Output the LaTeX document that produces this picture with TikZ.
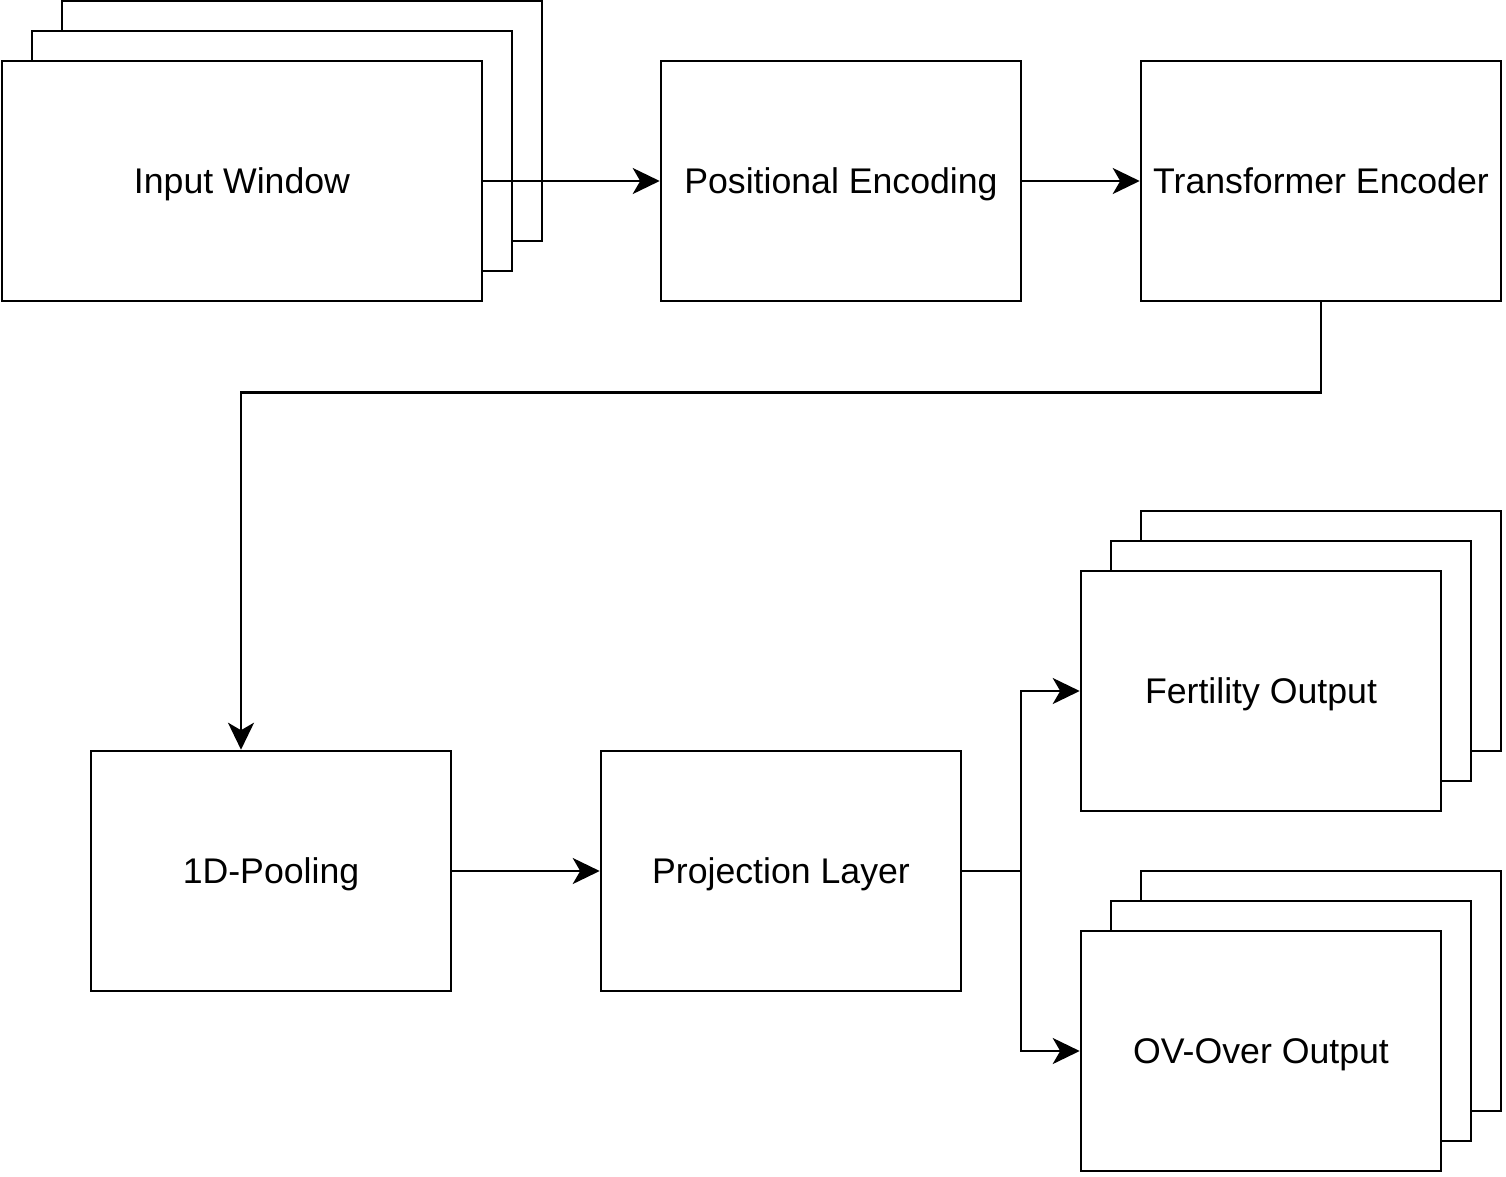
\documentclass[tikz,border=0pt]{standalone}
\usepackage{fontspec}
\setmainfont{Liberation Sans}
\usetikzlibrary{arrows.meta}
\tikzset{
  blk/.style={draw, fill=white, line width=1.5pt, minimum width=7.2cm, minimum height=4.8cm, inner sep=0pt, text height=14.6pt, text depth=0pt, font=\fontsize{20.3}{24}\selectfont},
  wideblk/.style={blk, minimum width=9.6cm},
  conn/.style={line width=1.5pt, -{Stealth[length=0.54cm,width=0.52cm,inset=0.15cm]}},
}
\begin{document}
\begin{tikzpicture}[x=0.02cm, y=-0.02cm]
\useasboundingbox (0,0) rectangle (1506,1176);
\node[wideblk] (inwin2) at (302,121){};
\node[wideblk] (inwin1) at (272,151){};
\node[wideblk] (inwin0) at (242,181){Input Window};
\node[blk] (posenc) at (841,181){Positional Encoding};
\node[blk] (trenc) at (1321,181){Transformer Encoder};
\node[blk] (pool) at (271,871){1D-Pooling};
\node[blk] (proj) at (781,871){Projection Layer};
\node[blk] (fert2) at (1321,631){};
\node[blk] (fert1) at (1291,661){};
\node[blk] (fert0) at (1261,691){Fertility Output};
\node[blk] (ovo2) at (1321,991){};
\node[blk] (ovo1) at (1291,1021){};
\node[blk] (ovo0) at (1261,1051){OV-Over Output};
\coordinate (split) at (1021,871);
\draw[conn] (inwin0) -- (posenc);
\draw[conn] (posenc) -- (trenc);
\draw[conn] (trenc.south) -- ++(0,90) -| ([xshift=-0.6cm]pool.north);
\draw[conn] (pool) -- (proj);
\draw[conn] (proj.east) -- (split) |- (fert0.west);
\draw[conn] (proj.east) -- (split) |- (ovo0.west);
\end{tikzpicture}
\end{document}
